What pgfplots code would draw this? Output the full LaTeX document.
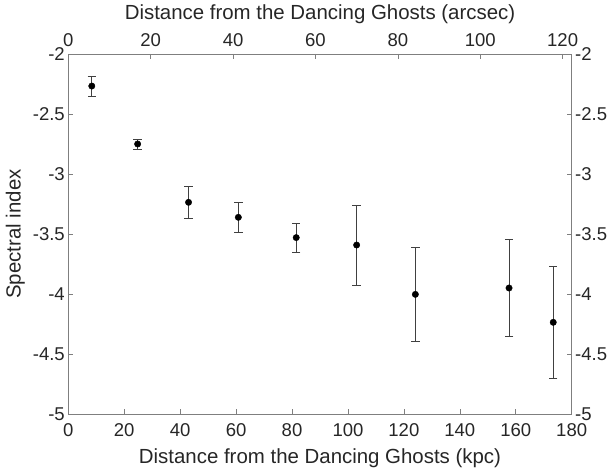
\documentclass[border=0pt]{standalone}
\usepackage{fontspec}
\setmainfont{Liberation Sans}
\usepackage{pgfplots}
\usepackage{pgfplotstable}
\pgfplotsset{compat=1.18}
\definecolor{axgray}{HTML}{7F7F7F}
\definecolor{txt}{HTML}{262626}
\definecolor{ebar}{HTML}{404040}
\pgfplotstableread{
x y e
8.4 -2.267 0.083
24.8 -2.75 0.043
43.0 -3.236 0.133
60.8 -3.361 0.122
81.5 -3.53 0.122
103.1 -3.592 0.335
124.1 -4.003 0.394
157.6 -3.95 0.403
173.4 -4.236 0.47
}\datatable

\begin{document}
\begin{tikzpicture}
\pgfplotsset{every axis/.append style={
  scale only axis, width=503.4bp, height=360bp,
  ymin=-5, ymax=-2, ytick={-5,-4.5,-4,-3.5,-3,-2.5,-2},
  yticklabels={-5,-4.5,-4,-3.5,-3,-2.5,-2},
  tick align=inside, major tick length=5bp,
  axis line style={axgray, line width=0.6bp, -},
  tick style={axgray, line width=0.6bp},
  ticklabel style={font=\fontsize{18.6}{18.6}\selectfont, text=txt},
  /pgf/number format/assume math mode=true,
}}
\begin{axis}[at={(0,0)}, xmin=0, xmax=180, xtick={0,20,...,180},
  axis x line*=bottom, axis y line*=left,
  xticklabel style={yshift=-6bp},
  xlabel={Distance from the Dancing Ghosts (kpc)}, ylabel={Spectral index},
  every axis x label/.style={at={(rel axis cs:0.5,0)}, anchor=base, yshift=-49bp,
    font=\fontsize{20.5}{20.5}\selectfont, text=txt},
  every axis y label/.style={at={(rel axis cs:0,0.5)}, rotate=90, anchor=center, yshift=53bp,
    font=\fontsize{20.5}{20.5}\selectfont, text=txt}]
\coordinate (ll) at (rel axis cs:0,0);
\coordinate (ur) at (rel axis cs:1,1);
\addplot[only marks, mark=*, mark size=3.2bp, black,
  error bars/.cd, y dir=both, y explicit,
  error bar style={ebar, line width=0.6bp},
  error mark options={ebar, rotate=90, mark size=4.2bp, line width=0.6bp}]
  table[x=x, y=y, y error=e] {\datatable};
\end{axis}
\begin{axis}[at={(0,0)}, xmin=0, xmax=122.2, xtick={0,20,...,120},
  axis x line*=top, axis y line*=right,
  xticklabel style={yshift=4bp},
  xlabel={Distance from the Dancing Ghosts (arcsec)},
  every axis x label/.style={at={(rel axis cs:0.5,1)}, anchor=base, yshift=34bp,
    font=\fontsize{20.5}{20.5}\selectfont, text=txt}]
\end{axis}
\pgfresetboundingbox
\useasboundingbox ([shift={(-68.3bp,-60bp)}]ll) rectangle ([shift={(40.3bp,54bp)}]ur);
\end{tikzpicture}
\end{document}
